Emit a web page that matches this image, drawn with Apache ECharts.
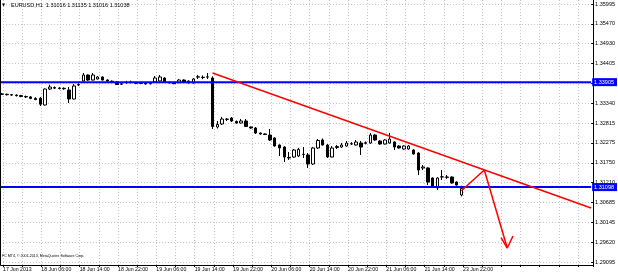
<!DOCTYPE html>
<html>
<head>
<meta charset="utf-8">
<script src="https://cdn.jsdelivr.net/npm/echarts@6/dist/echarts.min.js"></script>
<style>html,body{margin:0;padding:0;background:#fff}#c{width:618px;height:276px}</style>
</head>
<body>
<div id="c"></div>
<script>
// ---- data ----
const symbolTitle = 'EURUSD,H1  1.31016 1.31135 1.31016 1.31038';
const copyrightText = 'FC MT4, \u00A9 2001-2013, MetaQuotes Software Corp.';
const timeLabels = ['17 Jun 2013','18 Jun 06:00','18 Jun 14:00','18 Jun 22:00','19 Jun 06:00','19 Jun 14:00','19 Jun 22:00','20 Jun 06:00','20 Jun 14:00','20 Jun 22:00','21 Jun 06:00','21 Jun 14:00','23 Jun 22:00'];
const barsPerLabel = 8;
const barsPerGrid = 4;
const visibleBars = 123.125;   // width of the time axis, in bars (incl. empty future space)
const tickLabels = ['1.29095','1.29620','1.30145','1.30685','1.31210','1.31750','1.32275','1.32815','1.33340','1.33880','1.34405','1.34930','1.35470','1.35995'];
const levelLabels = ['1.33905', '1.31098'];

const opens  = [1.33590,1.33580,1.33570,1.33560,1.33545,1.33520,1.33510,1.33470,1.33475,1.33294,
                1.33722,1.33760,1.33745,1.33740,1.33695,1.33454,1.33829,1.33936,1.34096,1.33962,
                1.33989,1.34043,1.33962,1.33930,1.33909,1.33850,1.33890,1.33895,1.33885,1.33875,
                1.33895,1.33860,1.33909,1.33936,1.34016,1.33905,1.33880,1.33890,1.33962,1.33936,
                1.33882,1.34040,1.34035,1.34040,1.34016,1.32705,1.32786,1.32915,1.32946,1.32853,
                1.32812,1.32866,1.32705,1.32679,1.32545,1.32520,1.32491,1.32411,1.32224,1.32170,
                1.31890,1.31903,1.31930,1.31970,1.31957,1.31716,1.32144,1.32358,1.32224,1.31903,
                1.32157,1.32170,1.32197,1.32250,1.32224,1.32277,1.32270,1.32277,1.32491,1.32331,
                1.32251,1.32277,1.32304,1.32197,1.32117,1.32117,1.32090,1.32010,1.31609,1.31609,
                1.31341,1.31074,1.31368,1.31368,1.31368,1.31234,1.30887];
const closes = [1.33580,1.33570,1.33560,1.33545,1.33520,1.33510,1.33470,1.33440,1.33315,1.33722,
                1.33775,1.33745,1.33735,1.33730,1.33454,1.33802,1.33840,1.34096,1.33962,1.34096,
                1.34043,1.33962,1.33936,1.33915,1.33842,1.33860,1.33895,1.33900,1.33875,1.33870,
                1.33855,1.33870,1.34016,1.34043,1.33909,1.33885,1.33865,1.33962,1.33895,1.33882,
                1.33989,1.34048,1.34030,1.34045,1.32718,1.32772,1.32919,1.32910,1.32866,1.32812,
                1.32866,1.32718,1.32679,1.32545,1.32518,1.32505,1.32358,1.32197,1.32144,1.31903,
                1.31876,1.32090,1.32105,1.31975,1.31716,1.32144,1.32345,1.32224,1.31903,1.32144,
                1.32184,1.32224,1.32277,1.32260,1.32304,1.32170,1.32285,1.32491,1.32358,1.32251,
                1.32358,1.32384,1.32170,1.32144,1.32197,1.32197,1.31983,1.31555,1.31636,1.31234,
                1.31101,1.31341,1.31375,1.31360,1.31208,1.31154,1.31060];
const lows   = [1.33560,1.33545,1.33535,1.33520,1.33500,1.33480,1.33450,1.33420,1.33267,1.33280,
                1.33695,1.33720,1.33710,1.33700,1.33347,1.33440,1.33800,1.33920,1.33940,1.33950,
                1.33975,1.33950,1.33920,1.33900,1.33830,1.33830,1.33860,1.33870,1.33850,1.33850,
                1.33840,1.33845,1.33895,1.33920,1.33895,1.33870,1.33850,1.33880,1.33880,1.33870,
                1.33870,1.33989,1.33985,1.33990,1.32652,1.32665,1.32759,1.32866,1.32839,1.32800,
                1.32800,1.32705,1.32660,1.32518,1.32500,1.32490,1.32331,1.32180,1.31930,1.31769,
                1.31823,1.31880,1.31903,1.31876,1.31609,1.31689,1.32117,1.32210,1.31876,1.31890,
                1.32117,1.32150,1.32180,1.32225,1.32210,1.31957,1.32240,1.32260,1.32340,1.32230,
                1.32235,1.32260,1.32090,1.32125,1.32100,1.32100,1.31965,1.31422,1.31555,1.31154,
                1.31080,1.31021,1.31288,1.31320,1.31190,1.31140,1.30850];
const highs  = [1.33615,1.33600,1.33590,1.33580,1.33565,1.33545,1.33530,1.33500,1.33508,1.33735,
                1.33837,1.33790,1.33770,1.33765,1.33775,1.33855,1.33870,1.34150,1.34110,1.34150,
                1.34070,1.34060,1.33980,1.33950,1.33925,1.33880,1.33940,1.33945,1.33905,1.33895,
                1.33910,1.33890,1.34069,1.34096,1.34035,1.33920,1.33895,1.33985,1.33980,1.33950,
                1.34010,1.34096,1.34085,1.34150,1.34060,1.32866,1.32973,1.32946,1.32973,1.32880,
                1.32919,1.32919,1.32720,1.32705,1.32560,1.32535,1.32652,1.32430,1.32240,1.32190,
                1.32037,1.32117,1.32144,1.32170,1.32010,1.32170,1.32384,1.32398,1.32251,1.32197,
                1.32224,1.32277,1.32331,1.32300,1.32358,1.32331,1.32320,1.32545,1.32510,1.32350,
                1.32380,1.32545,1.32320,1.32215,1.32215,1.32220,1.32110,1.32030,1.31689,1.31630,
                1.31360,1.31360,1.31555,1.31420,1.31385,1.31250,1.31135];

// hand-drawn objects: [bar index, price]
const trendLine = [[44, 1.34150], [123.125, 1.30539]];
const arrowPath = [[96, 1.31000], [100.8, 1.31555], [105.6, 1.29469]];
const arrowHead = [[104.3, 1.29750], [105.6, 1.29469], [106.8, 1.29790]];

// ---- chart ----
const candles = opens.map((o, i) => [i, o, closes[i], lows[i], highs[i]]);
const gridColor = '#c4c4c4';
const FONT = 'Liberation Sans';
const xStart = -2 / 4.8;

const levelSeries = levelLabels.map(s => ({
  type: 'line', xAxisIndex: 1, yAxisIndex: 1, z: 4, silent: true,
  data: [[xStart, +s], [visibleBars, +s]], showSymbol: false, symbol: 'none',
  lineStyle: {color: '#0000ff', width: 2},
  endLabel: {show: true, distance: 1, color: '#ffffff', backgroundColor: '#0000ff',
             fontSize: 5.5, fontFamily: FONT, padding: [1, 3, 1, 2], formatter: () => s}
}));

const chart = echarts.init(document.getElementById('c'), null, {renderer: 'canvas'});
chart.setOption({
  animation: false,
  backgroundColor: '#ffffff',
  textStyle: {fontFamily: FONT},
  title: [
    {text: '\u25BC', left: 2, top: 3, padding: 0, textStyle: {fontSize: 4, color: '#000', fontWeight: 'normal', fontFamily: 'DejaVu Sans'}},
    {text: symbolTitle, left: 11, top: 2, padding: 0, textStyle: {fontSize: 5.5, color: '#000', fontWeight: 'normal', fontFamily: FONT}},
    {text: copyrightText, left: 2, top: 254, padding: 0, textStyle: {fontSize: 3.6, color: '#000', fontWeight: 'normal', fontFamily: FONT}}
  ],
  grid: [
    {left: 2, right: 25, top: 0, bottom: 11},
    {left: 0, right: 25, top: 4, bottom: 14}
  ],
  xAxis: [
    {type: 'value', gridIndex: 0, min: 0, max: visibleBars, interval: barsPerGrid,
     axisLine: {show: true, lineStyle: {color: '#000', width: 1}},
     axisTick: {show: true, length: 2, lineStyle: {color: '#000'}},
     axisLabel: {show: true, align: 'left', margin: 2, fontSize: 5.2, color: '#000', fontFamily: FONT,
       showMinLabel: true, showMaxLabel: true,
       formatter: v => (v % barsPerLabel === 0 && timeLabels[v / barsPerLabel]) ? timeLabels[v / barsPerLabel] : ''},
     splitLine: {show: true, lineStyle: {color: gridColor, type: [1, 2], width: 1}}},
    {type: 'value', gridIndex: 1, min: xStart, max: visibleBars, show: false}
  ],
  yAxis: [
    {type: 'value', gridIndex: 0, min: 0, max: 1, show: false},
    {type: 'value', gridIndex: 1, min: +tickLabels[0], max: +tickLabels[tickLabels.length - 1], show: false, position: 'left'},
    {type: 'value', gridIndex: 1, min: 0, max: tickLabels.length - 1, interval: 1, position: 'right',
     axisLine: {show: false},
     axisTick: {show: true, length: 3, lineStyle: {color: '#000'}},
     axisLabel: {show: true, margin: 4, fontSize: 5.5, color: '#000', fontFamily: FONT, formatter: v => tickLabels[v] || ''},
     splitLine: {show: true, lineStyle: {color: gridColor, type: [1, 2], width: 1}}}
  ],
  series: [
    {type: 'candlestick', xAxisIndex: 1, yAxisIndex: 1, data: candles,
     encode: {x: 0, y: [1, 2, 3, 4]}, barWidth: 3, clip: false, z: 3,
     itemStyle: {color: '#ffffff', color0: '#000000', borderColor: '#000000', borderColor0: '#000000', borderWidth: 1}},
    ...levelSeries,
    {type: 'line', xAxisIndex: 1, yAxisIndex: 1, data: trendLine, showSymbol: false, symbol: 'none', z: 5,
     lineStyle: {color: '#ff0000', width: 1.5}},
    {type: 'line', xAxisIndex: 1, yAxisIndex: 1, data: arrowPath, showSymbol: false, symbol: 'none', z: 5, clip: false,
     lineStyle: {color: '#ff0000', width: 1.5}},
    {type: 'line', xAxisIndex: 1, yAxisIndex: 1, data: arrowHead, showSymbol: false, symbol: 'none', z: 5, clip: false,
     lineStyle: {color: '#ff0000', width: 1.5}}
  ],
  graphic: [
    {type: 'polyline', z: 10, silent: true,
     shape: {points: [[0.5, 0], [0.5, 265.5], [593.5, 265.5], [593.5, 0]]},
     style: {stroke: '#000', fill: null, lineWidth: 1}}
  ]
});
</script>
</body>
</html>
